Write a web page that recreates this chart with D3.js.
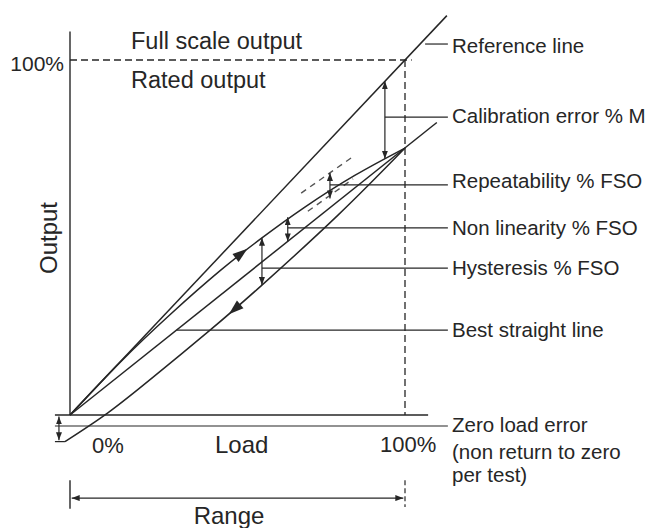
<!DOCTYPE html>
<html>
<head>
<meta charset="utf-8">
<script src="https://cdn.jsdelivr.net/npm/d3@7"></script>
<style>
  body { margin: 0; background: #fff; }
  svg text { font-family: "Liberation Sans", Arial, sans-serif; fill: #262626; }
</style>
</head>
<body>
<svg id="chart" width="647" height="528"></svg>
<script>
"use strict";

// load (0 = 0%, 1 = 100%) against output (0 = 0%, 1 = 100%)
const referenceLine = [[0, 0], [1.125, 1.125]];
const bestStraightLine = [[0, 0], [1.095, 0.824]];
const loadingCurve = [[0, 0], [0.15, 0.149], [0.3, 0.284], [0.45, 0.408], [0.573, 0.499],
                      [0.7, 0.585], [0.85, 0.675], [1, 0.752]];
const unloadingCurve = [[-0.015, -0.075], [0.113, 0.006], [0.25, 0.108], [0.418, 0.239],
                        [0.573, 0.366], [0.8, 0.563], [1, 0.752]];
const repeatUpper = [[0.69, 0.625], [0.845, 0.728]];
const repeatLower = [[0.71, 0.574], [0.845, 0.665]];

// measured gaps: calibration, repeatability, non linearity, hysteresis
const gapLoads = [0.94, 0.776, 0.65, 0.573];
const gapTops = [0.94, 0.682, 0.557, 0.499];
const gapBottoms = [0.722, 0.61, 0.489, 0.366];

const labelNames = ["Reference line", "Calibration error % M", "Repeatability % FSO",
                    "Non linearity % FSO", "Hysteresis % FSO", "Best straight line", "Zero load error"];
const leaderY = [1.045, 0.839, 0.648, 0.527, 0.414, 0.239, -0.031];
const leaderFrom = [1.06, 0.94, 0.776, 0.65, 0.573, 0.318, -0.045];
const labelShift = [9, 6, 3, 7, 7, 7, 6];
const extraLines = ["(non return to zero", "per test)"];

const zeroError = -0.075;
const rangeY = -0.234;

const ink = "#262626";
const svg = d3.select("#chart");

const x = d3.scaleLinear().domain([0, 1]).range([70, 405]);
const y = d3.scaleLinear().domain([0, 1]).range([415, 60]);

// markers
const defs = svg.append("defs");
defs.append("marker")
    .attr("id", "tip")
    .attr("viewBox", "0 0 8 6")
    .attr("refX", 8).attr("refY", 3)
    .attr("markerWidth", 8).attr("markerHeight", 6)
    .attr("markerUnits", "userSpaceOnUse")
    .attr("orient", "auto-start-reverse")
    .append("path").attr("d", "M0,0 L8,3 L0,6 z").attr("fill", ink);

function seg(x1, y1, x2, y2, opts) {
    opts = opts || {};
    let l = svg.append("line")
        .attr("x1", x(x1)).attr("y1", y(y1))
        .attr("x2", x(x2)).attr("y2", y(y2))
        .attr("stroke", ink)
        .attr("stroke-width", opts.w || 1.4);
    if (opts.dash) l.attr("stroke-dasharray", opts.dash);
    if (opts.start) l.attr("marker-start", "url(#tip)");
    if (opts.end) l.attr("marker-end", "url(#tip)");
    return l;
}

function label(text, px, py, size, anchor) {
    return svg.append("text")
        .attr("x", px).attr("y", py)
        .attr("font-size", size)
        .attr("text-anchor", anchor || "start")
        .text(text);
}

// axes
seg(0, 1.08, 0, 0);
seg(-0.045, 0, 1.069, 0);
seg(0, 1, 1.02, 1, { dash: "7,4", w: 1.3 });
seg(1, 1, 1, 0, { dash: "7,4", w: 1.3 });

// straight lines
const line = d3.line().x(d => x(d[0])).y(d => y(d[1]));
svg.append("path").datum(referenceLine).attr("d", line)
    .attr("fill", "none").attr("stroke", ink).attr("stroke-width", 1.5);
svg.append("path").datum(bestStraightLine).attr("d", line)
    .attr("fill", "none").attr("stroke", ink).attr("stroke-width", 1.5);

// curves
const curve = d3.line().x(d => x(d[0])).y(d => y(d[1])).curve(d3.curveNatural);
const loadPath = svg.append("path").datum(loadingCurve).attr("d", curve)
    .attr("fill", "none").attr("stroke", ink).attr("stroke-width", 1.5);
const unloadPath = svg.append("path").datum(unloadingCurve).attr("d", curve)
    .attr("fill", "none").attr("stroke", ink).attr("stroke-width", 1.5);

[repeatUpper, repeatLower].forEach(band => {
    svg.append("path").datum(band).attr("d", line)
        .attr("fill", "none").attr("stroke", "#555").attr("stroke-width", 1.4)
        .attr("stroke-dasharray", "6,5");
});

// direction arrows along the curves
function pointAtX(node, px) {
    let lo = 0, hi = node.getTotalLength();
    for (let i = 0; i < 30; i++) {
        let mid = (lo + hi) / 2;
        if (node.getPointAtLength(mid).x < px) lo = mid; else hi = mid;
    }
    return lo;
}
function curveArrow(node, load, forward) {
    let len = pointAtX(node, x(load));
    let p = node.getPointAtLength(len);
    let q = node.getPointAtLength(len + (forward ? 4 : -4));
    let ang = Math.atan2(q.y - p.y, q.x - p.x) * 180 / Math.PI;
    svg.append("path")
        .attr("d", "M7,0 L-8,-5 L-8,5 z")
        .attr("fill", ink)
        .attr("transform", `translate(${p.x},${p.y}) rotate(${ang})`);
}
curveArrow(loadPath.node(), 0.513, true);
curveArrow(unloadPath.node(), 0.49, false);

// measured gaps
gapLoads.forEach((g, i) => {
    seg(g, gapBottoms[i], g, gapTops[i], { start: true, end: true, w: 1.2 });
});

// zero load error
seg(-0.033, -0.004, -0.033, zeroError + 0.004, { start: true, end: true, w: 1.2 });
seg(-0.045, zeroError, -0.015, zeroError, { w: 1.2 });

// leaders and labels
labelNames.forEach((t, i) => {
    seg(leaderFrom[i], leaderY[i], 1.128, leaderY[i], { w: 1.2 });
    label(t, 452, y(leaderY[i]) + labelShift[i], 20.5);
});
extraLines.forEach((t, i) => {
    label(t, 452, y(leaderY[6]) + 33 + i * 23, 20.5);
});

// range
seg(0.005, rangeY, 0.995, rangeY, { start: true, end: true, w: 1.2 });
seg(0, rangeY + 0.05, 0, rangeY - 0.03, { w: 1.4 });
seg(1, rangeY + 0.05, 1, rangeY - 0.025, { dash: "5,3", w: 1.2 });

// texts
label("Full scale output", 131, 49, 23.5);
label("Rated output", 131, 88, 23.5);
label("100%", 64, 71, 21, "end");
label("0%", 92, 453, 22);
label("Load", 215, 453, 24);
label("100%", 380, 452, 22);
label("Range", 229, 524, 24, "middle");
svg.append("text")
    .attr("transform", "translate(57,238) rotate(-90)")
    .attr("font-size", 24)
    .attr("text-anchor", "middle")
    .text("Output");
</script>
</body>
</html>
